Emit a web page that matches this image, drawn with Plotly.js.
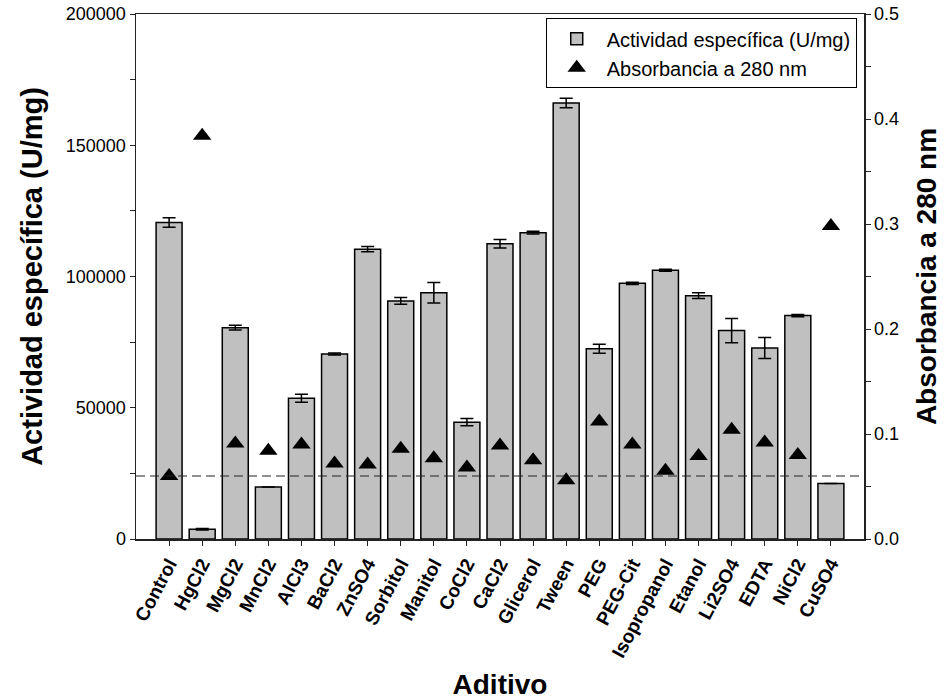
<!DOCTYPE html>
<html>
<head>
<meta charset="utf-8">
<script src="https://cdn.plot.ly/plotly-3.0.1.min.js"></script>
<style>
html,body{margin:0;padding:0;background:#fff;}
#chart{width:952px;height:700px;}
</style>
</head>
<body>
<div id="chart"></div>
<script>
var categories = ["Control","HgCl2","MgCl2","MnCl2","AlCl3","BaCl2","ZnSO4","Sorbitol","Manitol","CoCl2","CaCl2","Glicerol","Tween","PEG","PEG-Cit","Isopropanol","Etanol","Li2SO4","EDTA","NiCl2","CuSO4"];
var actividad = [120600,3700,80500,19800,53600,70500,110400,90700,93800,44500,112500,116700,166100,72500,97400,102400,92700,79400,72800,85100,21100];
var actividadErr = [1800,300,900,0,1500,400,1000,1300,3900,1400,1600,500,1850,1700,400,400,1100,4600,4000,400,0];
var absorbancia = [0.060,0.384,0.091,0.084,0.090,0.072,0.071,0.086,0.077,0.068,0.089,0.075,0.056,0.112,0.090,0.065,0.079,0.104,0.092,0.080,0.298];
var refAbsorbancia = 0.06;
var leftTicks = [0,50000,100000,150000,200000];
var rightTicks = [0,0.1,0.2,0.3,0.4,0.5];
var rightTickText = ["0.0","0.1","0.2","0.3","0.4","0.5"];

var FONT = "Liberation Sans, Arial, Helvetica, sans-serif";

var bars = {
  type: "bar",
  name: "Actividad específica (U/mg)",
  x: categories,
  y: actividad,
  marker: {color: "#c0c0c0", line: {color: "#000", width: 1.5}},
  error_y: {type: "data", array: actividadErr, visible: true, color: "#000", thickness: 1.5, width: 6.5},
  yaxis: "y"
};
var tri = {
  type: "scatter",
  mode: "markers",
  name: "Absorbancia a 280 nm",
  x: categories,
  y: absorbancia,
  marker: {symbol: "triangle-up", size: 16, color: "#000"},
  yaxis: "y2"
};

var layout = {
  width: 952, height: 700,
  margin: {l: 136, r: 88, t: 14, b: 161},
  paper_bgcolor: "#fff", plot_bgcolor: "#fff",
  font: {family: FONT, color: "#000"},
  showlegend: true,
  bargap: 0.215,
  legend: {
    x: 0.99, y: 0.992, xanchor: "right", yanchor: "top",
    bgcolor: "#fff", bordercolor: "#000", borderwidth: 1,
    font: {family: FONT, size: 20, color: "#000"},
    itemwidth: 50, tracegroupgap: 0
  },
  xaxis: {
    type: "category",
    range: [-1, 21],
    showline: true, linecolor: "#222", linewidth: 1.5, mirror: true,
    ticks: "outside", ticklen: 5, tickcolor: "#222",
    tickangle: -62,
    tickfont: {family: FONT, size: 19, weight: "bold", color: "#000"},
    showgrid: false, zeroline: false,
    title: {text: "Aditivo", font: {family: FONT, size: 28, weight: "bold", color: "#000"}, standoff: 22}
  },
  yaxis: {
    range: [0, 200000],
    tickvals: leftTicks, ticktext: leftTicks.map(String),
    showline: true, linecolor: "#222", linewidth: 1.5,
    ticks: "outside", ticklen: 5, tickcolor: "#222",
    minor: {dtick: 25000, ticks: "outside", ticklen: 5, tickcolor: "#222"},
    tickfont: {family: FONT, size: 18, color: "#000"},
    showgrid: false, zeroline: false,
    title: {text: "Actividad específica (U/mg)", font: {family: FONT, size: 29, weight: "bold", color: "#000"}, standoff: 14}
  },
  yaxis2: {
    overlaying: "y", side: "right",
    range: [0, 0.5],
    tickvals: rightTicks, ticktext: rightTickText,
    showline: true, linecolor: "#222", linewidth: 1.5,
    ticks: "outside", ticklen: 5, tickcolor: "#222",
    minor: {dtick: 0.05, ticks: "outside", ticklen: 5, tickcolor: "#222"},
    tickfont: {family: FONT, size: 18, color: "#000"},
    showgrid: false, zeroline: false,
    title: {text: "Absorbancia a 280 nm", font: {family: FONT, size: 28, weight: "bold", color: "#000"}, standoff: 18}
  },
  shapes: [{
    type: "line", xref: "paper", x0: 0, x1: 1,
    yref: "y2", y0: refAbsorbancia, y1: refAbsorbancia,
    line: {color: "#222", width: 1.2, dash: "9px,5px"},
    layer: "above"
  }]
};

Plotly.newPlot("chart", [bars, tri], layout, {displayModeBar: false, staticPlot: true});
</script>
</body>
</html>
